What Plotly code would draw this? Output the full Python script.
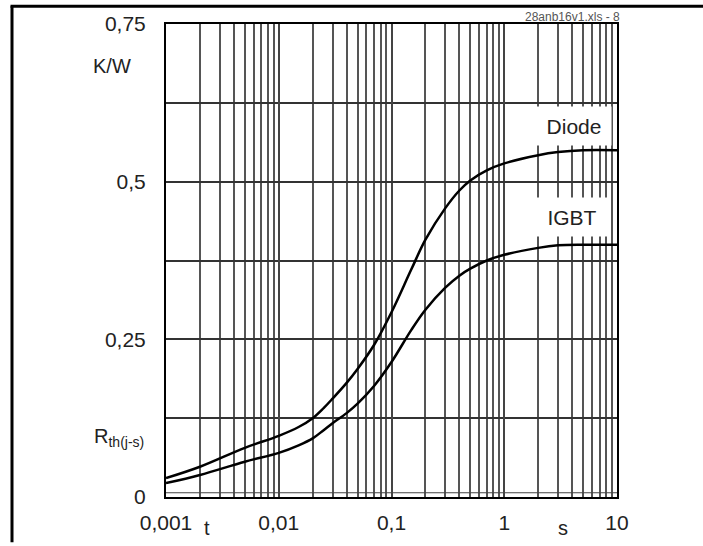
import plotly.graph_objects as go

# Time values (s) and thermal impedance Rth(j-s) in K/W
t_values = [0.001, 0.002, 0.005, 0.01, 0.015, 0.02, 0.025, 0.03, 0.04, 0.05, 0.07, 0.1,
            0.15, 0.2, 0.3, 0.4, 0.5, 0.7, 1, 2, 3, 5, 10]
diode_values = [0.030, 0.048, 0.078, 0.097, 0.111, 0.125, 0.141, 0.156, 0.181, 0.203, 0.241, 0.293,
                0.361, 0.408, 0.458, 0.486, 0.502, 0.518, 0.529, 0.542, 0.547, 0.550, 0.550]
igbt_values = [0.022, 0.035, 0.056, 0.070, 0.082, 0.093, 0.106, 0.117, 0.133, 0.148, 0.176, 0.214,
               0.265, 0.297, 0.332, 0.351, 0.362, 0.375, 0.384, 0.395, 0.399, 0.400, 0.400]

x_decades = [0.001, 0.01, 0.1, 1, 10]
x_tick_text = ["0,001", "0,01", "0,1", "1", "10"]
x_minor_vals = [m * 10 ** k for k in range(-3, 1) for m in range(2, 10)]
y_major_vals = [0, 0.25, 0.5, 0.75]
y_tick_text = ["0", "0,25", "0,5", "0,75"]
y_minor_vals = [0.125, 0.375, 0.625]

FONT = "Liberation Sans, Arial, sans-serif"
W, H = 703, 546
L, R, T, B = 166, 86, 24, 41
pw, ph = W - L - R, H - T - B


def px(xp):
    return (xp - L) / pw


def py(yp):
    return (H - B - yp) / ph


fig = go.Figure()
fig.add_trace(go.Scatter(x=t_values, y=diode_values, mode="lines", name="Diode",
                         line=dict(color="black", width=2.5, shape="spline", smoothing=1.0)))
fig.add_trace(go.Scatter(x=t_values, y=igbt_values, mode="lines", name="IGBT",
                         line=dict(color="black", width=2.5, shape="spline", smoothing=1.0)))

fig.update_xaxes(
    type="log", range=[-3, 1],
    tickvals=x_decades, ticktext=x_tick_text,
    showgrid=True, gridcolor="#444", gridwidth=1.5,
    minor=dict(tickvals=x_minor_vals, showgrid=True, gridcolor="#555", gridwidth=1.5, ticks=""),
    showline=True, linecolor="black", linewidth=2, mirror=True,
    ticks="", tickfont=dict(family=FONT, size=21, color="#222"),
    ticklabelstandoff=6, zeroline=False,
)
fig.update_yaxes(
    range=[0, 0.75],
    tickvals=y_major_vals, ticktext=y_tick_text,
    showgrid=True, gridcolor="#333", gridwidth=1.5,
    minor=dict(tickvals=y_minor_vals, showgrid=True, gridcolor="#333", gridwidth=1.5, ticks=""),
    showline=True, linecolor="black", linewidth=2, mirror=True,
    ticks="", tickfont=dict(family=FONT, size=21, color="#222"),
    ticklabelstandoff=14, zeroline=False,
)

anns = []
for txt, xp, yp in [("Diode", 574, 128), ("IGBT", 572, 220)]:
    anns.append(dict(text=txt, x=px(xp), y=py(yp), xref="paper", yref="paper",
                     showarrow=False, bgcolor="white", width=72, height=36,
                     font=dict(family=FONT, size=21, color="#222"),
                     xanchor="center", yanchor="middle"))
text_labels = [
    ("K/W", 133, 67, "right", 20),
    ("R<sub>th(j-s)</sub>", 146, 444, "right", 20),
    ("t", 207, 537, "center", 20),
    ("s", 563, 537, "center", 20),
]
for txt, xp, yp, anchor, size in text_labels:
    anns.append(dict(text=txt, x=px(xp), y=py(yp), xref="paper", yref="paper",
                     showarrow=False, xanchor=anchor, yanchor="middle",
                     font=dict(family=FONT, size=size, color="#222")))
anns.append(dict(text="28anb16v1.xls - 8", x=px(622), y=py(16.5), xref="paper", yref="paper",
                 showarrow=False, xanchor="right", yanchor="middle",
                 font=dict(family=FONT, size=12, color="#555")))

shapes = [
    # outer frame (left and top)
    dict(type="line", xref="paper", yref="paper", x0=px(12), x1=px(12), y0=py(6), y1=py(H + 5),
         line=dict(color="black", width=3)),
    dict(type="line", xref="paper", yref="paper", x0=px(10.5), x1=px(W + 5), y0=py(6), y1=py(6),
         line=dict(color="black", width=3)),
    # extra thin line just above the bottom axis
    dict(type="line", xref="paper", yref="y", x0=0, x1=1, y0=0.0067, y1=0.0067,
         line=dict(color="#444", width=1.2)),
]

fig.update_layout(
    width=W, height=H, autosize=False,
    margin=dict(l=L, r=R, t=T, b=B),
    paper_bgcolor="white", plot_bgcolor="white",
    showlegend=False,
    annotations=anns, shapes=shapes,
    font=dict(family=FONT),
)

fig.write_html("out.html", config={"displayModeBar": False},
               post_script="document.body.style.margin='0';")
